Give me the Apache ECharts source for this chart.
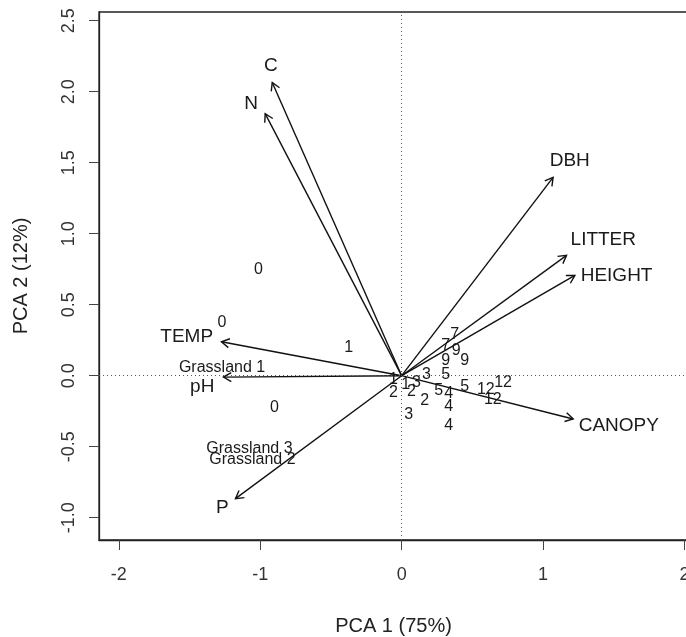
<!DOCTYPE html>
<html>
<head>
<meta charset="utf-8">
<script src="https://cdn.jsdelivr.net/npm/echarts@6/dist/echarts.min.js"></script>
<style>
html, body { margin: 0; padding: 0; background: #fff; }
#main { width: 686px; height: 637px; }
</style>
</head>
<body>
<div id="main"></div>
<script>
const FONT = '"Liberation Sans", Arial, Helvetica, sans-serif';

// variable loadings (arrow tips) and where their labels sit
const varNames = ['C', 'N', 'DBH', 'LITTER', 'HEIGHT', 'CANOPY', 'TEMP', 'pH', 'P'];
const varX = [-0.915, -0.965, 1.071, 1.166, 1.225, 1.213, -1.274, -1.26, -1.175];
const varY = [2.065, 1.845, 1.396, 0.847, 0.706, -0.305, 0.239, -0.01, -0.866];
const varLabelX = [-0.924, -1.064, 1.189, 1.426, 1.52, 1.536, -1.52, -1.41, -1.267];
const varLabelY = [2.183, 1.915, 1.516, 0.958, 0.706, -0.352, 0.275, -0.08, -0.93];

// site scores, labelled by plot number
const siteNames = ['0', '0', '1', '0', '1', '2', '1', '3', '2', '3', '5', '2', '3',
  '5', '4', '4', '4', '5', '12', '12', '12', '7', '7', '9', '9', '9'];
const siteX = [-1.012, -1.27, -0.375, -0.9, -0.057, -0.057, 0.028, 0.105, 0.07, 0.175,
  0.311, 0.163, 0.05, 0.262, 0.333, 0.333, 0.333, 0.446, 0.595, 0.717, 0.645,
  0.375, 0.311, 0.385, 0.311, 0.446];
const siteY = [0.746, 0.373, 0.197, -0.225, -0.03, -0.12, -0.063, -0.049, -0.11, 0.007,
  0.007, -0.176, -0.275, -0.104, -0.127, -0.218, -0.352, -0.08, -0.099, -0.049, -0.169,
  0.289, 0.211, 0.176, 0.106, 0.106];

// grassland sites
const grassNames = ['Grassland 1', 'Grassland 3', 'Grassland 2'];
const grassX = [-1.27, -1.076, -1.055];
const grassY = [0.056, -0.514, -0.592];

const xTicks = [-2, -1, 0, 1, 2];
const yTicks = [-1, -0.5, 0, 0.5, 1, 1.5, 2, 2.5];

function zip(xs, ys) {
  return xs.map((x, i) => [x, ys[i]]);
}

function renderArrow(params, api) {
  const p0 = api.coord([0, 0]);
  const p1 = api.coord([api.value(0), api.value(1)]);
  const ang = Math.atan2(p1[1] - p0[1], p1[0] - p0[0]);
  const len = 9, spread = Math.PI / 6;
  const h1 = [p1[0] - len * Math.cos(ang - spread), p1[1] - len * Math.sin(ang - spread)];
  const h2 = [p1[0] - len * Math.cos(ang + spread), p1[1] - len * Math.sin(ang + spread)];
  const style = { stroke: '#111', lineWidth: 1.4, fill: null };
  return {
    type: 'group',
    children: [
      { type: 'line', shape: { x1: p0[0], y1: p0[1], x2: p1[0], y2: p1[1] }, style: style },
      { type: 'polyline', shape: { points: [h1, p1, h2] }, style: style }
    ]
  };
}

// text drawn at data coordinates
function textRenderer(names, size) {
  return function (params, api) {
    const p = api.coord([api.value(0), api.value(1)]);
    return {
      type: 'text',
      x: p[0],
      y: p[1],
      style: {
        text: names[params.dataIndex],
        fontSize: size,
        fontFamily: FONT,
        fill: '#1a1a1a',
        align: 'center',
        verticalAlign: 'middle'
      }
    };
  };
}

const options = {
  animation: false,
  grid: {
    left: 99, top: 12, right: -2, bottom: 97,
    show: true, borderColor: '#222', borderWidth: 1.3,
    containLabel: false, outerBoundsMode: 'none'
  },
  xAxis: {
    type: 'value', min: -2.14, max: 2.025,
    name: 'PCA 1 (75%)', nameLocation: 'middle', nameGap: 76,
    nameTextStyle: { fontSize: 20, fontFamily: FONT, color: '#222' },
    axisLine: { show: true, onZero: false, lineStyle: { color: '#222', width: 1.3 } },
    axisTick: { show: true, length: 10, customValues: xTicks, lineStyle: { color: '#444' } },
    axisLabel: { customValues: xTicks, margin: 26, fontSize: 18, fontFamily: FONT, color: '#333' },
    splitLine: { show: false }
  },
  yAxis: {
    type: 'value', min: -1.157, max: 2.561,
    name: 'PCA 2 (12%)', nameLocation: 'middle', nameGap: 68, nameRotate: 90,
    nameTextStyle: { fontSize: 20, fontFamily: FONT, color: '#222' },
    axisLine: { show: true, onZero: false, lineStyle: { color: '#222', width: 1.3 } },
    axisTick: { show: true, length: 10, customValues: yTicks, lineStyle: { color: '#444' } },
    axisLabel: {
      customValues: yTicks, rotate: 90, margin: 21, fontSize: 18, fontFamily: FONT, color: '#333',
      formatter: v => v.toFixed(1)
    },
    splitLine: { show: false }
  },
  series: [
    {
      type: 'custom',
      renderItem: renderArrow,
      data: zip(varX, varY),
      encode: { x: 0, y: 1 },
      silent: true,
      markLine: {
        silent: true,
        symbol: 'none',
        label: { show: false },
        lineStyle: { type: [1, 3], color: '#555', width: 1 },
        data: [{ xAxis: 0 }, { yAxis: 0 }]
      }
    },
    {
      type: 'custom',
      renderItem: textRenderer(varNames, 19),
      data: zip(varLabelX, varLabelY),
      encode: { x: 0, y: 1 },
      silent: true
    },
    {
      type: 'custom',
      renderItem: textRenderer(siteNames, 16),
      data: zip(siteX, siteY),
      encode: { x: 0, y: 1 },
      silent: true
    },
    {
      type: 'custom',
      renderItem: textRenderer(grassNames, 16),
      data: zip(grassX, grassY),
      encode: { x: 0, y: 1 },
      silent: true
    }
  ]
};

const chart = echarts.init(document.getElementById('main'));
chart.setOption(options);
window.onresize = function () {
  chart.resize();
};
</script>
</body>
</html>
